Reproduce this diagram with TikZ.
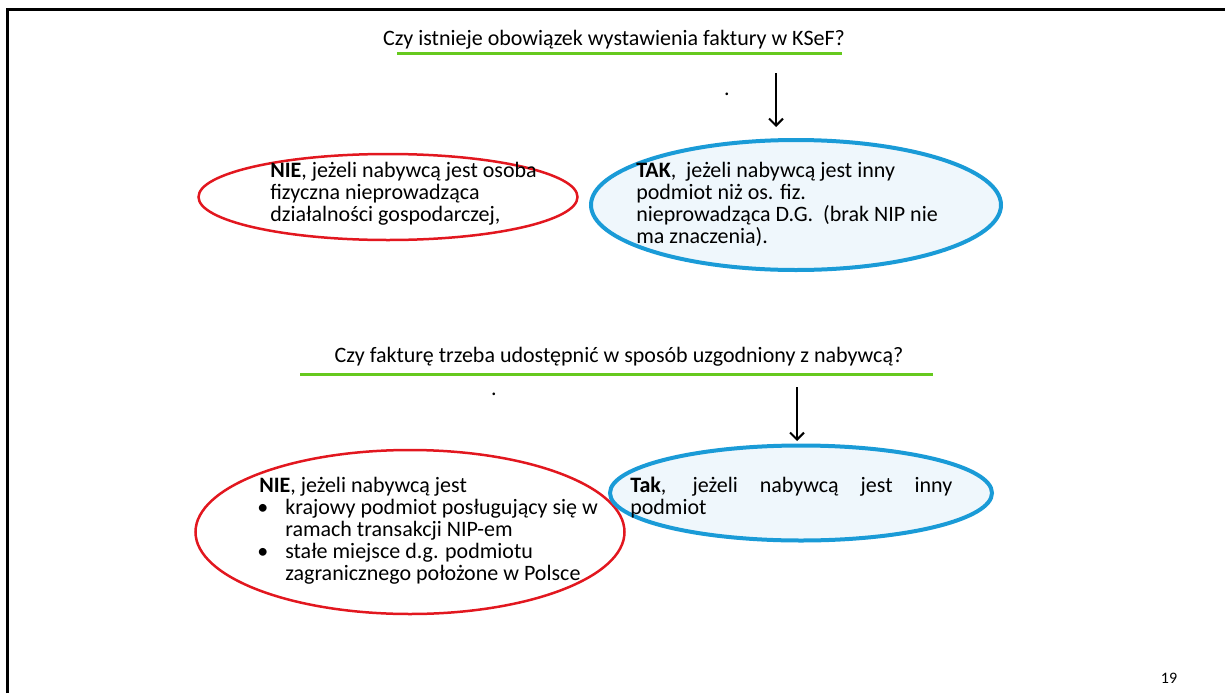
\documentclass[tikz,border=0pt]{standalone}
\usepackage{fontspec}
\setmainfont{Carlito}
\usetikzlibrary{shapes.geometric,arrows.meta}

\definecolor{nieRed}{HTML}{E2171F}
\definecolor{takBlue}{HTML}{1A9BD7}
\definecolor{takFill}{HTML}{EFF7FC}
\definecolor{lineGreen}{HTML}{66C91E}

\newdimen\pxu
\pxu=0.75pt
\newcommand{\bul}{\makebox[26\pxu][l]{\hspace{-2\pxu}\textbullet}}

\begin{document}
\begin{tikzpicture}
    [x=0.75pt, y=-0.75pt,
     txt/.style={font=\fontsize{16.5}{16.5}\selectfont, inner sep=0pt},
     nie/.style={ellipse, draw=nieRed, line width=2.5\pxu, inner sep=0pt},
     tak/.style={ellipse, draw=takBlue, fill=takFill, line width=4\pxu, inner sep=0pt},
     underline/.style={lineGreen, line width=3\pxu},
     arr/.style={-{Straight Barb[length=5.25pt,width=10.5pt]}, line width=1.5pt}]
    \useasboundingbox (0,0) rectangle (1225,693);
    % slide frame
    \draw[line width=3\pxu] (7,693) -- (7,9) -- (1225,9);

    %% first question
    \node[txt, anchor=base] (q1) at (614,45) {Czy istnieje obowiązek wystawienia faktury w KSeF?};
    \draw[underline] (397,53) -- (842,53);
    \node[txt, anchor=base] (dot1) at (727,95) {.};
    \coordinate (a1s) at (776,73);
    \coordinate (a1e) at (776,127);
    \draw[arr] (a1s) -- (a1e);

    \node[nie, minimum width=379\pxu, minimum height=86\pxu] (nie1) at (388,197) {};
    \node[txt, anchor=west, align=left] (nie1txt) at (270,194)
      {\textbf{NIE}, jeżeli nabywcą jest osoba\\
       fizyczna nieprowadząca\\
       działalności gospodarczej,};

    \node[tak, minimum width=410\pxu, minimum height=130\pxu] (tak1) at (796,205) {};
    \node[txt, anchor=west, align=left] (tak1txt) at (636,204)
      {\textbf{TAK},~ jeżeli nabywcą jest inny\\
       podmiot niż os. fiz.\\
       nieprowadząca D.G.~ (brak NIP nie\\
       ma znaczenia).};

    %% second question
    \node[txt, anchor=base] (q2) at (619,362) {Czy fakturę trzeba udostępnić w sposób uzgodniony z nabywcą?};
    \draw[underline] (300,374) -- (933,374);
    \node[txt, anchor=base] (dot2) at (494,395) {.};
    \coordinate (a2s) at (797,387);
    \coordinate (a2e) at (797,441);
    \draw[arr] (a2s) -- (a2e);

    \node[nie, minimum width=429\pxu, minimum height=164\pxu] (nie2) at (410,532) {};
    \node[txt, anchor=west, align=left] (nie2txt) at (259,531)
      {\textbf{NIE}, jeżeli nabywcą jest\\
       \bul krajowy podmiot posługujący się w\\
       \hspace*{26\pxu}ramach transakcji NIP-em\\
       \bul stałe miejsce d.g. podmiotu\\
       \hspace*{26\pxu}zagranicznego położone w Polsce};

    \node[tak, minimum width=382\pxu, minimum height=95\pxu] (tak2) at (801,493) {};
    \node[txt, anchor=west, text width=322\pxu, align=justify] (tak2txt) at (630,498)
      {\textbf{Tak}, jeżeli nabywcą jest inny\linebreak podmiot};

    \node[font=\fontsize{12}{14}\selectfont, inner sep=0pt] (pagenum) at (1169,678) {19};
\end{tikzpicture}
\end{document}
